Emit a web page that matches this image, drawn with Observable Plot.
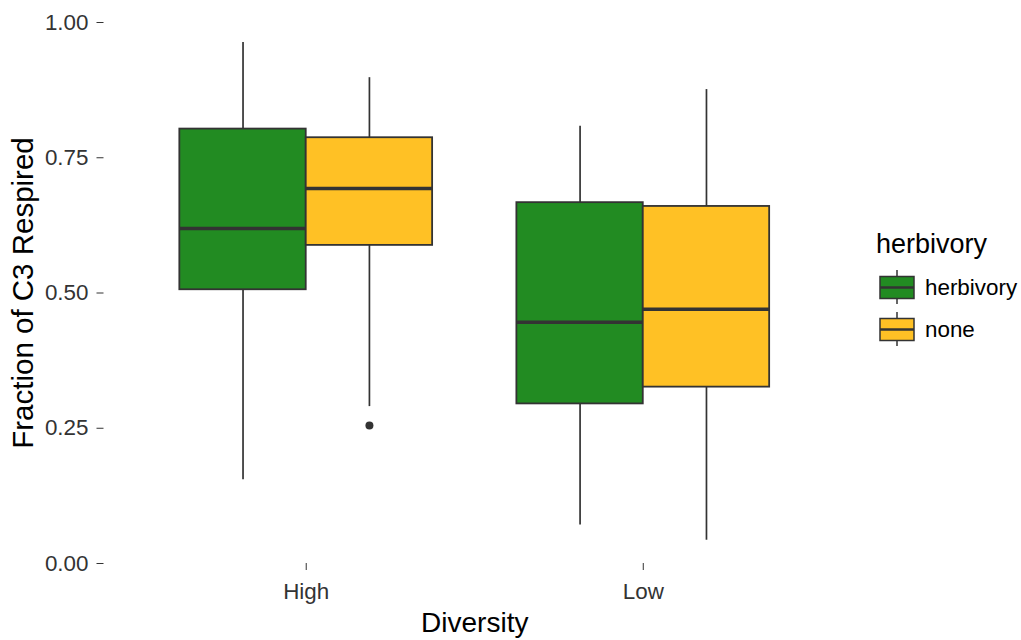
<!DOCTYPE html>
<html><head><meta charset="utf-8">
<script src="https://cdn.jsdelivr.net/npm/d3@7"></script>
<script src="https://cdn.jsdelivr.net/npm/@observablehq/plot@0.6"></script>
<style>
body{margin:0;background:#fff;}
#wrap{position:relative;width:1021px;height:640px;font-family:"Liberation Sans",Arial,sans-serif;}
#legend{position:absolute;left:860px;top:220px;}
</style></head><body><div id="wrap"></div>
<script>
// ---- data ----
const diversityLevels = ["High", "Low"];
const herbivoryLevels = ["herbivory", "none"];
const fillColors = ["#228B22", "#FFC125"];
const boxDiversity = ["High", "High", "Low", "Low"];
const boxHerbivory = ["herbivory", "none", "herbivory", "none"];
const whiskerLow  = [0.155, 0.290, 0.071, 0.043];
const quartile1   = [0.506, 0.588, 0.295, 0.326];
const medians     = [0.619, 0.693, 0.446, 0.470];
const quartile3   = [0.803, 0.787, 0.667, 0.660];
const whiskerHigh = [0.963, 0.898, 0.808, 0.876];
const outlierDiversity = ["High"];
const outlierHerbivory = ["none"];
const outlierValues = [0.255];
const yTicks = [0, 0.25, 0.5, 0.75, 1];

// ---- layout ----
const W = 1021, H = 640, mL = 103.5, mR = 176, mT = 22, mB = 77;
const padIn = 0.25, padOut = 0.225;
const step = (W - mL - mR) / (diversityLevels.length - padIn + 2 * padOut);
const bw = step * (1 - padIn);
const half = bw / 2, quarter = bw / 4;

const boxes = boxDiversity.map((d, i) => ({diversity: d, herbivory: boxHerbivory[i], lo: whiskerLow[i], q1: quartile1[i], med: medians[i], q3: quartile3[i], hi: whiskerHigh[i]}));
const outliers = outlierDiversity.map((d, i) => ({diversity: d, herbivory: outlierHerbivory[i], value: outlierValues[i]}));

const INK = "#333333";
const marks = [];
herbivoryLevels.forEach((h, k) => {
  const sub = boxes.filter(b => b.herbivory === h);
  const s = k === 0 ? -1 : 1;
  const inset = s < 0 ? {insetRight: half} : {insetLeft: half};
  marks.push(Plot.ruleX(sub, {x: "diversity", y1: "lo", y2: "q1", dx: s * quarter, stroke: INK, strokeWidth: 1.7}));
  marks.push(Plot.ruleX(sub, {x: "diversity", y1: "q3", y2: "hi", dx: s * quarter, stroke: INK, strokeWidth: 1.7}));
  marks.push(Plot.barY(sub, {x: "diversity", y1: "q1", y2: "q3", fill: {value: "herbivory", scale: "color"}, stroke: INK, strokeWidth: 1.8, ...inset}));
  marks.push(Plot.tickY(sub, {x: "diversity", y: "med", stroke: INK, strokeWidth: 3.5, ...inset}));
  marks.push(Plot.dot(outliers.filter(o => o.herbivory === h), {x: "diversity", y: "value", dx: s * quarter, r: 4, fill: INK, stroke: "none"}));
});

marks.push(Plot.axisY({ticks: yTicks, tickFormat: d3.format(".2f"), tickSize: 7, tickPadding: 8.5, fontSize: 22.4, fill: "#333", stroke: INK, label: null}));
marks.push(Plot.axisY({ticks: [], tickSize: 0, label: "Fraction of C3 Respired", labelArrow: false, labelAnchor: "center", labelOffset: 92, fontSize: 29.5, fill: "#000"}));
marks.push(Plot.axisX({tickSize: 7, tickPadding: 13, fontSize: 22.4, fill: "#333", stroke: INK, label: null}));
marks.push(Plot.axisX({ticks: [], tickSize: 0, label: "Diversity", labelArrow: false, labelAnchor: "center", labelOffset: 68, fontSize: 28, fill: "#000"}));

const chart = Plot.plot({
  width: W, height: H,
  marginLeft: mL, marginRight: mR, marginTop: mT, marginBottom: mB,
  style: {fontFamily: "'Liberation Sans', Arial, sans-serif", background: "white", overflow: "visible"},
  x: {type: "band", domain: diversityLevels, paddingInner: padIn, paddingOuter: padOut, align: 0.5, round: false, axis: null},
  y: {domain: [0, 1], axis: null},
  color: {type: "ordinal", domain: herbivoryLevels, range: fillColors},
  marks
});
const wrap = document.getElementById("wrap");
wrap.appendChild(chart);

// ---- legend ----
const lg = d3.select(wrap).append("svg").attr("id", "legend").attr("width", 161).attr("height", 140)
  .style("font-family", "'Liberation Sans', Arial, sans-serif");
lg.append("text").attr("x", 16).attr("y", 33).attr("font-size", 27).attr("fill", "#000").text("herbivory");
herbivoryLevels.forEach((h, i) => {
  const top = 50 + i * 42;
  const g = lg.append("g");
  g.append("line").attr("x1", 37).attr("x2", 37).attr("y1", top).attr("y2", top + 34).attr("stroke", INK).attr("stroke-width", 1.5);
  g.append("rect").attr("x", 20).attr("y", top + 6.5).attr("width", 34).attr("height", 22).attr("fill", fillColors[i]).attr("stroke", INK).attr("stroke-width", 1.5);
  g.append("line").attr("x1", 20).attr("x2", 54).attr("y1", top + 17.5).attr("y2", top + 17.5).attr("stroke", INK).attr("stroke-width", 2.5);
  g.append("text").attr("x", 65).attr("y", top + 17.5).attr("dy", "0.35em").attr("font-size", 22.4).attr("fill", "#000").text(h);
});
</script></body></html>
